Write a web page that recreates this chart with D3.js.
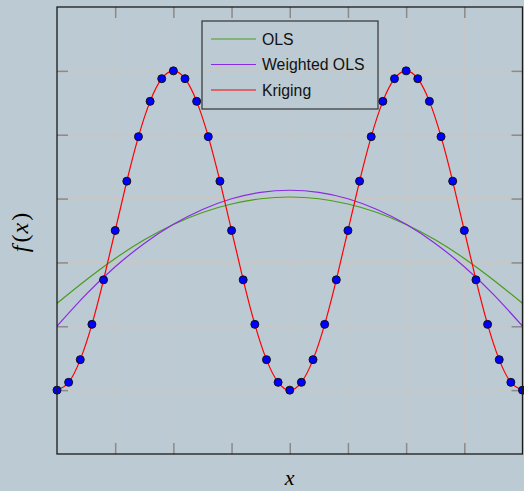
<!DOCTYPE html>
<html>
<head>
<meta charset="utf-8">
<script src="https://cdn.jsdelivr.net/npm/d3@7"></script>
<style>
  html, body { margin: 0; padding: 0; background: #bccad3; }
  svg { display: block; }
</style>
</head>
<body>
<svg id="chart" width="524" height="491"></svg>
<script>
// sample points (x in [0,1]) and the observed f(x)
const sampleX = d3.range(41).map(i => i / 40);
const sampleY = [
  -1.000, -0.951, -0.809, -0.588, -0.309, 0.000, 0.309, 0.588, 0.809, 0.951,
   1.000,  0.951,  0.809,  0.588,  0.309, 0.000, -0.309, -0.588, -0.809, -0.951,
  -1.000, -0.951, -0.809, -0.588, -0.309, 0.000, 0.309, 0.588, 0.809, 0.951,
   1.000,  0.951,  0.809,  0.588,  0.309, 0.000, -0.309, -0.588, -0.809, -0.951,
  -1.000
];

// regression fits, read at x = 0, 1/16, ... 1
const fitX = d3.range(17).map(i => i / 16);
const olsY = [-0.456, -0.310, -0.175, -0.058, 0.038, 0.113, 0.166, 0.199, 0.210,
               0.199, 0.166, 0.113, 0.038, -0.058, -0.175, -0.310, -0.456];
const wolsY = [-0.599, -0.400, -0.227, -0.081, 0.039, 0.132, 0.199, 0.239, 0.252,
                0.239, 0.199, 0.132, 0.039, -0.081, -0.227, -0.400, -0.599];

const xTicks = [0.125, 0.25, 0.375, 0.5, 0.625, 0.75, 0.875];
const yTicks = [-1.0, -0.6, -0.2, 0.2, 0.6, 1.0];

const legendNames = ['OLS', 'Weighted OLS', 'Kriging'];
const legendColors = ['#4a9c1c', '#8a2be2', '#ff0000'];

let svg = d3.select('#chart');
let width = 524, height = 491;
let margin = {top: 7, right: 1.5, bottom: 37, left: 57};
let w = width - margin.left - margin.right;
let h = height - margin.top - margin.bottom;

let g = svg.append('g')
  .attr('transform', `translate(${margin.left},${margin.top})`);

let x = d3.scaleLinear().domain([0, 1]).range([0, w]);
let y = d3.scaleLinear().domain([-1.4, 1.4]).range([h, 0]);

g.append('clipPath').attr('id', 'clip')
  .append('rect').attr('width', w).attr('height', h);

// grid
g.append('g').selectAll('line').data(xTicks).join('line')
  .attr('x1', d => x(d)).attr('x2', d => x(d))
  .attr('y1', 0).attr('y2', h)
  .attr('stroke', '#cbc6c3').attr('stroke-width', 1);
g.append('g').selectAll('line').data(yTicks).join('line')
  .attr('y1', d => y(d)).attr('y2', d => y(d))
  .attr('x1', 0).attr('x2', w)
  .attr('stroke', '#cbc6c3').attr('stroke-width', 1);

// ticks on all four sides, pointing inward
let tickStyle = sel => sel.call(s => s.select('.domain').remove())
  .call(s => s.selectAll('.tick line').attr('stroke', '#8a8a8a').attr('stroke-width', 1.5))
  .call(s => s.selectAll('.tick text').remove());

g.append('g').attr('transform', `translate(0,${h})`)
  .call(d3.axisTop(x).tickValues(xTicks).tickSize(11)).call(tickStyle);
g.append('g')
  .call(d3.axisBottom(x).tickValues(xTicks).tickSize(11)).call(tickStyle);
g.append('g')
  .call(d3.axisRight(y).tickValues(yTicks).tickSize(11)).call(tickStyle);
g.append('g').attr('transform', `translate(${w},0)`)
  .call(d3.axisLeft(y).tickValues(yTicks).tickSize(11)).call(tickStyle);

// curves
let plot = g.append('g').attr('clip-path', 'url(#clip)');

let fitLine = d3.line()
  .x((d, i) => x(fitX[i]))
  .y(d => y(d))
  .curve(d3.curveNatural);

plot.append('path').datum(olsY)
  .attr('fill', 'none').attr('stroke', legendColors[0]).attr('stroke-width', 1.2)
  .attr('d', fitLine);
plot.append('path').datum(wolsY)
  .attr('fill', 'none').attr('stroke', legendColors[1]).attr('stroke-width', 1.2)
  .attr('d', fitLine);

let krigLine = d3.line()
  .x((d, i) => x(sampleX[i]))
  .y(d => y(d))
  .curve(d3.curveNatural);

plot.append('path').datum(sampleY)
  .attr('fill', 'none').attr('stroke', legendColors[2]).attr('stroke-width', 1.2)
  .attr('d', krigLine);

// sample points
g.append('g').selectAll('circle').data(sampleY).join('circle')
  .attr('cx', (d, i) => x(sampleX[i]))
  .attr('cy', d => y(d))
  .attr('r', 4)
  .attr('fill', '#0000ff')
  .attr('stroke', '#111')
  .attr('stroke-width', 1);

// frame
g.append('rect')
  .attr('width', w).attr('height', h)
  .attr('fill', 'none').attr('stroke', '#1a1a1a').attr('stroke-width', 1.3);

// legend
let legend = svg.append('g').attr('transform', 'translate(202,21)');
legend.append('rect')
  .attr('width', 176).attr('height', 88)
  .attr('fill', 'none').attr('stroke', '#333').attr('stroke-width', 1.2);
let items = legend.selectAll('.item').data(legendNames).join('g')
  .attr('transform', (d, i) => `translate(0,${18 + i * 25.5})`);
items.append('line')
  .attr('x1', 9).attr('x2', 54)
  .attr('stroke', (d, i) => legendColors[i]).attr('stroke-width', 1);
items.append('text')
  .attr('x', 60).attr('dy', '0.35em')
  .attr('font-family', 'Liberation Sans, Arial, sans-serif')
  .attr('font-size', 15.8)
  .attr('fill', '#111')
  .text(d => d);

// axis labels
svg.append('text')
  .attr('x', margin.left + w / 2).attr('y', 485)
  .attr('text-anchor', 'middle')
  .attr('font-family', 'Liberation Serif, DejaVu Serif, serif')
  .attr('font-style', 'italic').attr('font-size', 22)
  .text('x');

svg.append('text')
  .attr('transform', `translate(28,${margin.top + h / 2 + 2}) rotate(-90)`)
  .attr('text-anchor', 'middle')
  .attr('font-family', 'Liberation Serif, DejaVu Serif, serif')
  .attr('font-size', 24)
  .html('<tspan font-style="italic">f</tspan><tspan dx="3">(</tspan><tspan dx="1" font-style="italic">x</tspan><tspan dx="2">)</tspan>');
</script>
</body>
</html>
